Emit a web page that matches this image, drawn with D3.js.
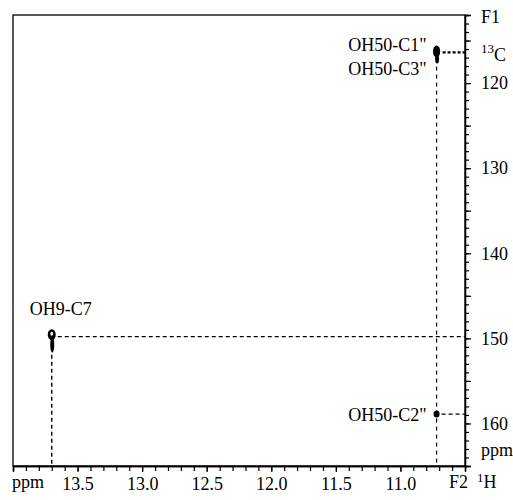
<!DOCTYPE html>
<html>
<head>
<meta charset="utf-8">
<script src="https://cdn.jsdelivr.net/npm/d3@7"></script>
<style>
  body { margin: 0; background: #fff; }
  svg text { font-family: "Liberation Serif", "Times New Roman", "DejaVu Serif", serif; fill: #000; }
</style>
</head>
<body>
<div id="vis"></div>
<script>
// peaks (1H ppm, 13C ppm)
var peakH = [13.70, 10.72, 10.72];
var peakC = [149.8, 116.4, 158.9];
var peakNames = [["OH9-C7"], ["OH50-C1\"", "OH50-C3\""], ["OH50-C2\""]];

// axis ticks
var hLabels = [13.5, 13.0, 12.5, 12.0, 11.5, 11.0];
var cLabels = [120, 130, 140, 150, 160];

var FONT = "Liberation Serif, Times New Roman, serif";
var width = 513, height = 500;
var m = {left: 13, right: 465, top: 15, bottom: 466};

var svg = d3.select("#vis").append("svg")
    .attr("width", width)
    .attr("height", height);

var x = d3.scaleLinear().domain([14.0, 10.5]).range([m.left, m.right]);
var y = d3.scaleLinear().domain([112, 165]).range([m.top, m.bottom]);

// frame
svg.append("rect")
  .attr("x", m.left).attr("y", m.top)
  .attr("width", m.right - m.left).attr("height", m.bottom - m.top)
  .attr("fill", "none").attr("stroke", "#000").attr("stroke-width", 1.3);

// bottom axis: minor ticks every 0.1 ppm, labels every 0.5
var xMinor = d3.axisBottom(x)
  .tickValues(d3.range(105, 141).map(function(d) { return d / 10; }))
  .tickSize(5).tickFormat("");
var xMajor = d3.axisBottom(x)
  .tickValues(hLabels).tickSize(6).tickPadding(5)
  .tickFormat(d3.format(".1f"));

svg.append("g").attr("transform", "translate(0," + m.bottom + ")").call(xMinor);
var gx = svg.append("g").attr("transform", "translate(0," + m.bottom + ")").call(xMajor);
gx.attr("font-family", FONT);
gx.selectAll("text").attr("font-size", 18).attr("font-family", FONT);

// right axis: ticks every 1 ppm
var yMinor = d3.axisRight(y)
  .tickValues(d3.range(112, 166))
  .tickSize(4).tickFormat("");
var yMajor = d3.axisRight(y)
  .tickValues(d3.range(115, 166, 5)).tickSize(6).tickPadding(10)
  .tickFormat(function(d) { return cLabels.indexOf(d) >= 0 ? d : ""; });

svg.append("g").attr("transform", "translate(" + m.right + ",0)").call(yMinor);
var gy = svg.append("g").attr("transform", "translate(" + m.right + ",0)").call(yMajor);
gy.attr("font-family", FONT);
gy.selectAll("text").attr("font-size", 18).attr("font-family", FONT);

svg.selectAll(".domain").attr("stroke-width", 1.3);
svg.selectAll(".tick line").attr("stroke-width", 1.2);

// axis captions
function caption(tx, ty, s) {
  return svg.append("text").attr("x", tx).attr("y", ty)
    .attr("font-size", 18).attr("font-family", FONT).text(s);
}
caption(12, 488, "ppm");
caption(449, 488, "F2");
var h1 = caption(477, 488, "");
h1.append("tspan").attr("font-size", 13).attr("dy", -6).text("1");
h1.append("tspan").attr("dy", 6).text("H");

caption(481, 23, "F1");
var c13 = caption(481, 53, "").attr("font-size", 13);
c13.append("tspan").text("13");
c13.append("tspan").attr("font-size", 18).attr("dy", 8).text("C");
caption(481, 456, "ppm");

// dashed guide lines from each peak
var guides = svg.append("g").attr("stroke", "#000").attr("fill", "none");
// OH9-C7
guides.append("line")
  .attr("x1", x(peakH[0]) + 6).attr("x2", m.right)
  .attr("y1", y(peakC[0])).attr("y2", y(peakC[0]))
  .attr("stroke-width", 1.2).attr("stroke-dasharray", "4,3");
guides.append("line")
  .attr("x1", x(peakH[0])).attr("x2", x(peakH[0]))
  .attr("y1", y(peakC[0]) + 18).attr("y2", m.bottom)
  .attr("stroke-width", 1.4).attr("stroke-dasharray", "4,3");
// OH50-C1"/C3"
guides.append("line")
  .attr("x1", x(peakH[1]) + 6).attr("x2", m.right)
  .attr("y1", y(peakC[1])).attr("y2", y(peakC[1]))
  .attr("stroke-width", 2.2).attr("stroke-dasharray", "3,2");
guides.append("line")
  .attr("x1", x(peakH[1])).attr("x2", x(peakH[1]))
  .attr("y1", y(peakC[1]) + 14).attr("y2", m.bottom)
  .attr("stroke-width", 1.2).attr("stroke-dasharray", "4,4");
// OH50-C2"
guides.append("line")
  .attr("x1", x(peakH[2]) + 5).attr("x2", m.right)
  .attr("y1", y(peakC[2])).attr("y2", y(peakC[2]))
  .attr("stroke-width", 1.2).attr("stroke-dasharray", "4,3");

// cross peaks drawn as small contour blobs
var blobs = [
  [{dx: 0, dy: -2, rx: 4, ry: 5.5, c: "#000"}, {dx: 0, dy: -3, rx: 1.4, ry: 2, c: "#fff"},
   {dx: 0.5, dy: 8, rx: 2, ry: 8, c: "#000"}],
  [{dx: 0, dy: -1, rx: 3.6, ry: 6, c: "#000"}, {dx: 0.5, dy: 6, rx: 2, ry: 5, c: "#000"}],
  [{dx: 0, dy: 0, rx: 3, ry: 3.5, c: "#000"}]
];
peakH.forEach(function(h, i) {
  var cx = x(h), cy = y(peakC[i]);
  svg.append("g").selectAll("ellipse")
    .data(blobs[i]).enter().append("ellipse")
      .attr("cx", function(d) { return cx + d.dx; })
      .attr("cy", function(d) { return cy + d.dy; })
      .attr("rx", function(d) { return d.rx; })
      .attr("ry", function(d) { return d.ry; })
      .attr("fill", function(d) { return d.c; });
});

// peak labels
var labelPos = [
  {x: x(peakH[0]) + 9, y: y(peakC[0]) - 22, anchor: "middle"},
  {x: x(peakH[1]) - 10, y: y(peakC[1]) - 1, anchor: "end"},
  {x: x(peakH[2]) - 10, y: y(peakC[2]) + 7, anchor: "end"}
];
peakNames.forEach(function(lines, i) {
  var t = svg.append("text")
    .attr("x", labelPos[i].x).attr("y", labelPos[i].y)
    .attr("text-anchor", labelPos[i].anchor)
    .attr("font-size", 18).attr("font-family", FONT);
  lines.forEach(function(s, j) {
    t.append("tspan").attr("x", labelPos[i].x).attr("dy", j ? 24 : 0).text(s);
  });
});
</script>
</body>
</html>
